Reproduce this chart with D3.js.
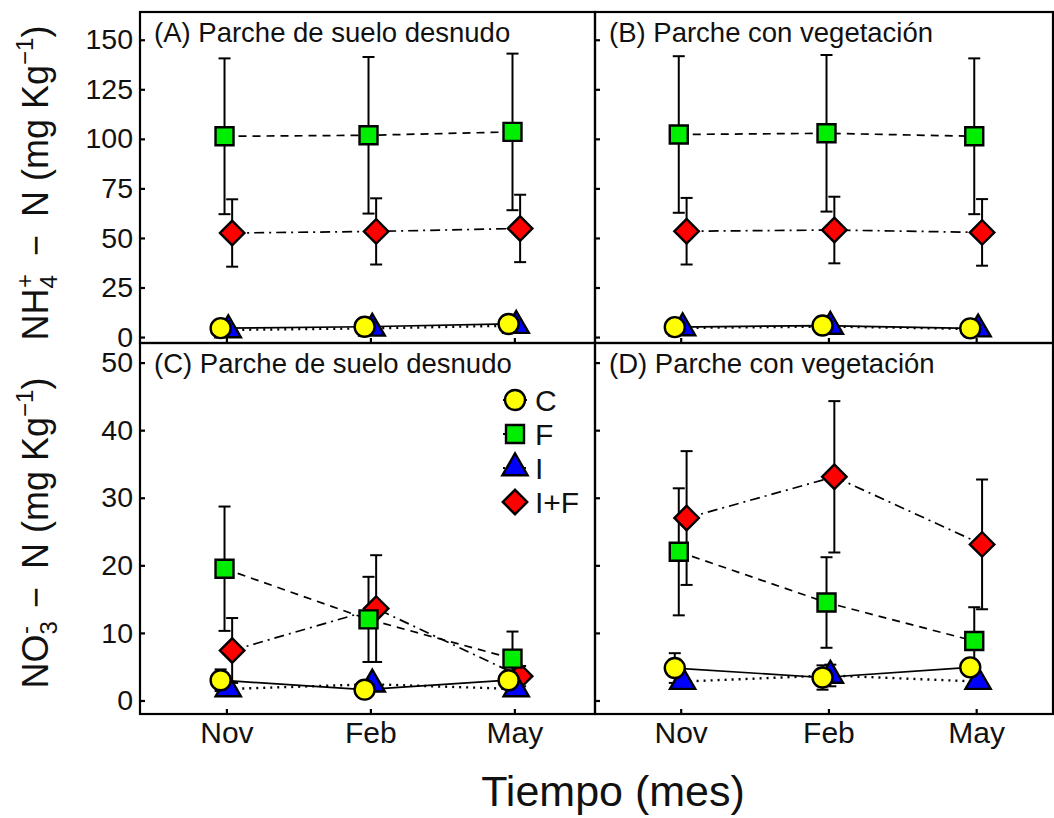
<!DOCTYPE html>
<html>
<head>
<meta charset="utf-8">
<script src="https://cdn.jsdelivr.net/npm/d3@7"></script>
<style>
  html, body { margin: 0; padding: 0; background: #fff; }
  svg { display: block; font-family: "Liberation Sans", Arial, Helvetica, sans-serif; }
</style>
</head>
<body>
<svg id="chart" width="1054" height="818"></svg>
<script>
// Sampling months and treatments
const months = ["Nov", "Feb", "May"];
const treatments = ["C", "F", "I", "I+F"];

// NH4+-N (mg/kg), bare-soil patch: one row per treatment (C, F, I, I+F)
const nh4BareMean = [[4.5, 5.2, 6.6], [101.3, 101.8, 103.5], [3.6, 4.4, 5.8], [52.5, 53.3, 54.8]];
const nh4BareErr  = [[1.2, 1.2, 1.5], [39.3, 39.5, 39.5], [1.0, 1.0, 1.2], [17.0, 16.7, 17.0]];

// NH4+-N (mg/kg), vegetated patch
const nh4VegMean = [[5.0, 5.8, 4.4], [102.2, 102.8, 101.3], [4.6, 5.3, 4.0], [53.4, 54.0, 52.8]];
const nh4VegErr  = [[1.2, 1.3, 1.2], [39.5, 39.5, 39.3], [1.0, 1.1, 1.0], [16.8, 16.8, 16.8]];

// NO3--N (mg/kg), bare-soil patch
const no3BareMean = [[3.0, 1.6, 3.0], [19.5, 12.0, 6.2], [1.7, 2.4, 1.7], [7.4, 13.6, 3.6]];
const no3BareErr  = [[1.6, 0.6, 0.8], [9.2, 6.3, 4.0], [0.5, 0.6, 0.4], [4.8, 7.9, 1.5]];

// NO3--N (mg/kg), vegetated patch
const no3VegMean = [[4.8, 3.4, 4.9], [22.0, 14.5, 8.8], [2.8, 3.7, 2.8], [27.0, 33.1, 23.1]];
const no3VegErr  = [[2.2, 1.8, 1.0], [9.4, 6.7, 5.0], [0.6, 1.6, 0.5], [9.9, 11.2, 9.6]];

// Axis ticks
const nh4Ticks = [0, 25, 50, 75, 100, 125, 150];
const no3Ticks = [0, 10, 20, 30, 40, 50];

// Panel titles
const panelTitles = ["(A) Parche de suelo desnudo", "(B) Parche con vegetación",
                     "(C) Parche de suelo desnudo", "(D) Parche con vegetación"];

// ---- styling ----
const fills = { "C": "#ffff00", "F": "#00ee00", "I": "#0000ff", "I+F": "#ff0000" };
const dashes = { "C": null, "F": "8,6", "I": "2,5", "I+F": "10,5,2,5" };
const dodge = { "C": -0.04, "F": -0.013, "I": 0.013, "I+F": 0.04 };
const drawOrder = ["I+F", "I", "F", "C"];
const symbolPath = {
  "C": d3.symbol().type(d3.symbolCircle).size(314)(),
  "F": d3.symbol().type(d3.symbolSquare).size(324)(),
  "I": d3.symbol().type(d3.symbolTriangle).size(275)(),
  "I+F": d3.symbol().type(d3.symbolSquare).size(300)()
};
const symbolRotate = { "C": 0, "F": 0, "I": 0, "I+F": 45 };

const svg = d3.select("#chart");
const tickFont = 28.5;

// panel geometry
const cols = [{ x0: 140, x1: 595, dom: [0.4, 3.56] }, { x0: 595, x1: 1053, dom: [0.42, 3.52] }];
const rows = [
  { y0: 12, y1: 343, dom: [-3, 164], ticks: nh4Ticks },
  { y0: 343, y1: 714, dom: [-2, 52.9], ticks: no3Ticks }
];

const panels = [
  { r: 0, c: 0, mean: nh4BareMean, err: nh4BareErr, title: panelTitles[0] },
  { r: 0, c: 1, mean: nh4VegMean, err: nh4VegErr, title: panelTitles[1] },
  { r: 1, c: 0, mean: no3BareMean, err: no3BareErr, title: panelTitles[2] },
  { r: 1, c: 1, mean: no3VegMean, err: no3VegErr, title: panelTitles[3] }
];

panels.forEach(p => {
  const col = cols[p.c], row = rows[p.r];
  const x = d3.scaleLinear().domain(col.dom).range([col.x0, col.x1]);
  const y = d3.scaleLinear().domain(row.dom).range([row.y1, row.y0]);
  const g = svg.append("g");

  // y axis, inward ticks
  const yAxis = d3.axisLeft(y).tickValues(row.ticks).tickSize(-5).tickPadding(7);
  if (p.c !== 0) yAxis.tickFormat("");
  const ya = g.append("g").attr("transform", `translate(${col.x0},0)`).call(yAxis);
  ya.select(".domain").remove();
  ya.selectAll("line").attr("stroke-width", 2.2);
  ya.selectAll("text").attr("font-size", tickFont).attr("fill", "#111").attr("font-family", null);

  // x axis, inward ticks
  const xAxis = d3.axisBottom(x).tickValues([1, 2, 3]).tickSize(-5).tickPadding(8)
    .tickFormat(d => months[d - 1]);
  if (p.r === 0) xAxis.tickFormat("");
  const xa = g.append("g").attr("transform", `translate(0,${row.y1})`).call(xAxis);
  xa.select(".domain").remove();
  xa.selectAll("line").attr("stroke-width", 2.2);
  xa.selectAll("text").attr("font-size", 30).attr("fill", "#111").attr("font-family", null);

  // connecting lines
  treatments.forEach((t, i) => {
    const pts = months.map((m, j) => [x(j + 1 + dodge[t]), y(p.mean[i][j])]);
    g.append("path")
      .attr("d", d3.line()(pts))
      .attr("fill", "none")
      .attr("stroke", "#000")
      .attr("stroke-width", t === "I" ? 2.4 : 1.7)
      .attr("stroke-dasharray", dashes[t]);
  });

  // error bars
  treatments.forEach((t, i) => {
    months.forEach((m, j) => {
      const cx = x(j + 1 + dodge[t]);
      const lo = y(p.mean[i][j] - p.err[i][j]), hi = y(p.mean[i][j] + p.err[i][j]);
      const eb = g.append("g").attr("stroke", "#000").attr("stroke-width", 2);
      eb.append("line").attr("x1", cx).attr("x2", cx).attr("y1", lo).attr("y2", hi);
      eb.append("line").attr("x1", cx - 6).attr("x2", cx + 6).attr("y1", lo).attr("y2", lo);
      eb.append("line").attr("x1", cx - 6).attr("x2", cx + 6).attr("y1", hi).attr("y2", hi);
    });
  });

  // points
  drawOrder.forEach(t => {
    const i = treatments.indexOf(t);
    months.forEach((m, j) => {
      g.append("path")
        .attr("d", symbolPath[t])
        .attr("transform", `translate(${x(j + 1 + dodge[t])},${y(p.mean[i][j])}) rotate(${symbolRotate[t]})`)
        .attr("fill", fills[t])
        .attr("stroke", "#000")
        .attr("stroke-width", 2.4)
        .attr("stroke-linejoin", "miter");
    });
  });

  // panel frame
  g.append("rect")
    .attr("x", col.x0).attr("y", row.y0)
    .attr("width", col.x1 - col.x0).attr("height", row.y1 - row.y0)
    .attr("fill", "none").attr("stroke", "#000").attr("stroke-width", 2.2);

  // panel title
  g.append("text")
    .attr("x", col.x0 + 14).attr("y", row.y0 + 30)
    .attr("font-size", 27.5).attr("fill", "#111")
    .text(p.title);

  // legend in panel C
  if (p.r === 1 && p.c === 0) {
    const lg = g.append("g");
    const lx = 515, ly0 = 400, step = 34;
    treatments.forEach((t, k) => {
      const yy = ly0 + k * step;
      lg.append("line").attr("x1", lx - 12).attr("x2", lx + 12).attr("y1", yy).attr("y2", yy)
        .attr("stroke", "#000").attr("stroke-width", 2).attr("stroke-dasharray", dashes[t]);
      lg.append("path").attr("d", symbolPath[t])
        .attr("transform", `translate(${lx},${yy}) rotate(${symbolRotate[t]})`)
        .attr("fill", fills[t]).attr("stroke", "#000").attr("stroke-width", 2.4);
      lg.append("text").attr("x", lx + 20).attr("y", yy).attr("dy", "0.36em")
        .attr("font-size", 30).attr("fill", "#111").text(t);
    });
  }
});

// y-axis titles with sub/superscripts
function yTitle(cx, cy, parts) {
  const t = svg.append("text")
    .attr("transform", `translate(${cx},${cy}) rotate(-90)`)
    .attr("text-anchor", "middle")
    .attr("font-size", 36).attr("fill", "#111")
    .attr("xml:space", "preserve");
  parts.forEach(pt => {
    const s = t.append("tspan").text(pt.s);
    if (pt.size) s.attr("font-size", pt.size);
    if (pt.dy) s.attr("dy", pt.dy);
    if (pt.dx) s.attr("dx", pt.dx);
  });
}
yTitle(48, 183, [
  { s: "NH" },
  { s: "4", size: 24, dy: 9 },
  { s: "+", size: 24, dx: -13, dy: -24 },
  { s: "\u2002\u2212\u2002N (mg Kg", dy: 15 },
  { s: "\u22121", size: 24, dy: -15 },
  { s: ")", dy: 15 }
]);
yTitle(48, 533, [
  { s: "NO" },
  { s: "3", size: 24, dy: 9 },
  { s: "-", size: 24, dx: -13, dy: -24 },
  { s: "\u2002\u2212\u2002N (mg Kg", dy: 15 },
  { s: "\u22121", size: 24, dy: -15 },
  { s: ")", dy: 15 }
]);

// x-axis title
svg.append("text")
  .attr("x", 613).attr("y", 806)
  .attr("text-anchor", "middle")
  .attr("font-size", 43).attr("fill", "#111")
  .text("Tiempo (mes)");
</script>
</body>
</html>
